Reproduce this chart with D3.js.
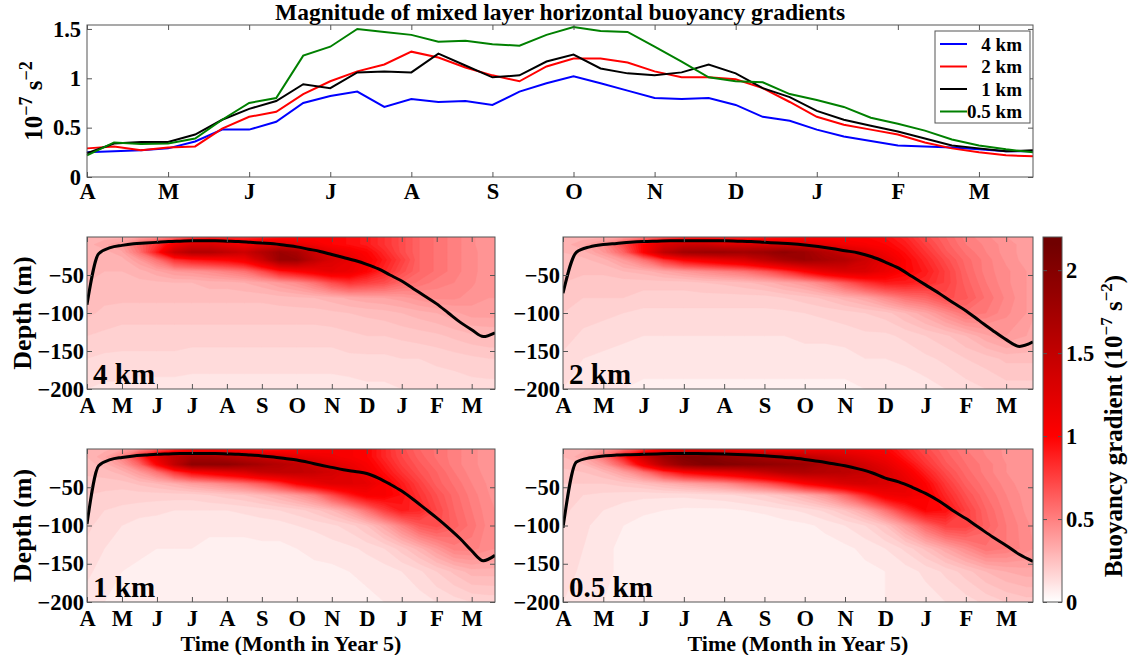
<!DOCTYPE html>
<html>
<head>
<meta charset="utf-8">
<script src="https://cdn.jsdelivr.net/npm/d3@7"></script>
<style>
  body { margin: 0; background: #fff; }
  svg { font-family: 'Liberation Serif', 'Times New Roman', serif; font-weight: bold; }
</style>
</head>
<body>
<svg id="chart"></svg>
<script>
// Time axis: model days (30-day months) starting 1 April of year 5
const monthLabels = ['A', 'M', 'J', 'J', 'A', 'S', 'O', 'N', 'D', 'J', 'F', 'M'];
const monthDays = [0, 30, 60, 90, 120, 150, 180, 210, 240, 270, 300, 330];
const lastDay = 350;

// Top panel: mixed layer |grad b| (10^-7 s^-2), one value every 10 days
const sampleDays = [0, 10, 20, 30, 40, 50, 60, 70, 80, 90, 100, 110, 120, 130, 140, 150, 160, 170,
  180, 190, 200, 210, 220, 230, 240, 250, 260, 270, 280, 290, 300, 310, 320, 330, 340, 350];
const grad4km = [0.25, 0.26, 0.27, 0.29, 0.36, 0.48, 0.48, 0.56, 0.75, 0.82, 0.865, 0.71,
  0.79, 0.76, 0.77, 0.73, 0.865, 0.95, 1.02, 0.95, 0.875, 0.80, 0.79, 0.80,
  0.73, 0.61, 0.57, 0.48, 0.41, 0.365, 0.32, 0.31, 0.30, 0.28, 0.26, 0.26];
const grad2km = [0.29, 0.31, 0.27, 0.30, 0.31, 0.49, 0.61, 0.66, 0.84, 0.97, 1.07, 1.14,
  1.27, 1.21, 1.11, 1.03, 0.97, 1.12, 1.20, 1.20, 1.16, 1.07, 1.01, 1.01,
  0.99, 0.90, 0.76, 0.61, 0.53, 0.48, 0.43, 0.35, 0.29, 0.25, 0.22, 0.21];
const grad1km = [0.24, 0.34, 0.355, 0.355, 0.43, 0.58, 0.69, 0.77, 0.94, 0.90, 1.06, 1.07,
  1.06, 1.25, 1.13, 1.01, 1.03, 1.17, 1.24, 1.10, 1.05, 1.03, 1.06, 1.14,
  1.05, 0.90, 0.81, 0.67, 0.58, 0.52, 0.46, 0.39, 0.32, 0.29, 0.26, 0.27];
const grad05km = [0.22, 0.35, 0.335, 0.34, 0.39, 0.58, 0.75, 0.80, 1.23, 1.32, 1.50, 1.47,
  1.44, 1.37, 1.38, 1.345, 1.33, 1.44, 1.52, 1.48, 1.47, 1.32, 1.17, 1.01,
  0.97, 0.96, 0.84, 0.78, 0.71, 0.60, 0.54, 0.47, 0.38, 0.32, 0.28, 0.25];

// Mixed layer depth (m), same 10-day sampling
const mld4km = [-89, -22, -14, -11, -9, -8, -7, -6, -5.5, -5, -5, -5, -5.5, -6, -7, -8, -9, -11,
  -13, -16, -19, -23, -27, -31, -36, -42, -50, -58, -68, -78, -88, -100, -112, -122, -131, -126];
const mld2km = [-74, -20, -13, -10, -8.5, -7, -6, -5.5, -5, -5, -5, -5, -5, -5.5, -6, -7, -8, -9,
  -10.5, -12.5, -15, -18, -21, -26, -33, -41, -52, -63, -74, -86, -97, -110, -123, -135, -144, -138];
const mld1km = [-98, -22, -14, -11, -9, -8, -7, -6.5, -6, -6, -6, -6, -6.5, -7, -8, -9, -10.5, -12.5,
  -14.5, -17.5, -21, -24, -27, -29.5, -32, -38, -46, -55, -66, -78, -90, -103, -117, -133, -146, -139];
const mld05km = [-103, -17, -11.5, -9, -8, -7.5, -7, -6.5, -6, -6, -6, -6.3, -6.6, -7.2, -8, -8.8, -10, -11.5,
  -13.6, -16, -19, -22, -26, -31, -38, -43, -50, -58, -68, -80, -91, -103, -115, -126, -138, -147];

// Depth-time sections of |grad b| (10^-7 s^-2): rows = depths, columns = days
const gridDays = [0, 15, 30, 45, 60, 75, 90, 105, 120, 135, 150, 165, 180, 195, 210, 225, 240,
  255, 270, 285, 300, 315, 330, 345, 350];
const gridDepths = [0, -10, -20, -30, -45, -60, -80, -100, -130, -160, -200];

const field4km = [
  [0.3, 0.3, 0.3, 0.35, 0.4, 0.5, 0.7, 0.8, 0.8, 0.8, 0.85, 0.9, 0.95, 1.0, 1.0, 0.95, 0.9, 0.8, 0.7, 0.6, 0.55, 0.5, 0.45, 0.4, 0.4],
  [0.3, 0.35, 0.4, 0.6, 0.8, 1.1, 1.3, 1.3, 1.2, 1.1, 1.2, 1.3, 1.2, 1.1, 1.0, 0.95, 0.9, 0.8, 0.7, 0.6, 0.55, 0.5, 0.45, 0.4, 0.4],
  [0.3, 0.3, 0.35, 0.55, 0.9, 1.4, 1.6, 1.6, 1.5, 1.4, 1.6, 1.8, 1.7, 1.4, 1.2, 1.1, 1.0, 0.85, 0.7, 0.6, 0.55, 0.5, 0.45, 0.42, 0.42],
  [0.3, 0.3, 0.3, 0.4, 0.55, 0.8, 0.9, 0.95, 1.0, 1.1, 1.4, 1.8, 1.8, 1.5, 1.3, 1.2, 1.05, 0.9, 0.75, 0.6, 0.55, 0.5, 0.45, 0.42, 0.42],
  [0.3, 0.28, 0.28, 0.3, 0.35, 0.4, 0.42, 0.45, 0.5, 0.55, 0.7, 0.9, 1.0, 1.1, 1.2, 1.15, 1.0, 0.85, 0.7, 0.6, 0.55, 0.5, 0.45, 0.42, 0.42],
  [0.28, 0.27, 0.27, 0.27, 0.27, 0.28, 0.28, 0.3, 0.3, 0.32, 0.35, 0.4, 0.45, 0.55, 0.7, 0.8, 0.75, 0.7, 0.6, 0.55, 0.5, 0.48, 0.45, 0.4, 0.4],
  [0.27, 0.25, 0.25, 0.25, 0.25, 0.25, 0.25, 0.25, 0.25, 0.25, 0.25, 0.26, 0.27, 0.28, 0.3, 0.33, 0.35, 0.36, 0.38, 0.42, 0.45, 0.45, 0.42, 0.4, 0.4],
  [0.25, 0.23, 0.22, 0.22, 0.22, 0.22, 0.22, 0.22, 0.22, 0.22, 0.22, 0.22, 0.22, 0.22, 0.23, 0.24, 0.25, 0.26, 0.28, 0.3, 0.32, 0.35, 0.38, 0.38, 0.38],
  [0.2, 0.19, 0.18, 0.18, 0.18, 0.18, 0.18, 0.18, 0.18, 0.18, 0.18, 0.18, 0.18, 0.18, 0.18, 0.19, 0.2, 0.2, 0.21, 0.22, 0.23, 0.25, 0.27, 0.28, 0.28],
  [0.16, 0.15, 0.15, 0.15, 0.15, 0.15, 0.14, 0.14, 0.14, 0.14, 0.14, 0.14, 0.14, 0.14, 0.14, 0.15, 0.15, 0.15, 0.16, 0.16, 0.17, 0.18, 0.19, 0.2, 0.2],
  [0.12, 0.11, 0.11, 0.1, 0.1, 0.1, 0.1, 0.1, 0.1, 0.1, 0.1, 0.1, 0.1, 0.1, 0.1, 0.1, 0.11, 0.11, 0.12, 0.12, 0.13, 0.13, 0.14, 0.14, 0.14]
];
const field2km = [
  [0.3, 0.3, 0.3, 0.35, 0.45, 0.6, 0.75, 0.8, 0.8, 0.8, 0.85, 0.9, 0.95, 1.0, 1.0, 1.0, 0.95, 0.85, 0.7, 0.6, 0.5, 0.45, 0.4, 0.38, 0.38],
  [0.3, 0.35, 0.45, 0.7, 1.0, 1.3, 1.4, 1.4, 1.3, 1.3, 1.3, 1.3, 1.3, 1.2, 1.1, 1.05, 1.0, 0.9, 0.75, 0.62, 0.52, 0.47, 0.42, 0.38, 0.38],
  [0.28, 0.3, 0.4, 0.6, 1.0, 1.5, 1.75, 1.8, 1.8, 1.75, 1.8, 1.9, 1.8, 1.6, 1.4, 1.25, 1.1, 0.95, 0.8, 0.65, 0.55, 0.48, 0.42, 0.38, 0.38],
  [0.27, 0.27, 0.3, 0.4, 0.55, 0.8, 1.0, 1.1, 1.2, 1.3, 1.5, 1.7, 1.8, 1.7, 1.6, 1.4, 1.2, 1.0, 0.85, 0.7, 0.58, 0.5, 0.43, 0.38, 0.38],
  [0.25, 0.25, 0.25, 0.28, 0.3, 0.35, 0.4, 0.45, 0.5, 0.55, 0.65, 0.8, 1.0, 1.2, 1.3, 1.3, 1.15, 1.0, 0.9, 0.75, 0.6, 0.5, 0.45, 0.4, 0.38],
  [0.24, 0.22, 0.22, 0.22, 0.22, 0.22, 0.22, 0.24, 0.25, 0.27, 0.3, 0.35, 0.4, 0.5, 0.65, 0.8, 0.9, 0.9, 0.85, 0.75, 0.62, 0.52, 0.45, 0.4, 0.38],
  [0.22, 0.2, 0.2, 0.2, 0.18, 0.18, 0.18, 0.18, 0.18, 0.18, 0.18, 0.2, 0.22, 0.25, 0.3, 0.35, 0.45, 0.55, 0.6, 0.7, 0.65, 0.55, 0.47, 0.4, 0.38],
  [0.2, 0.18, 0.17, 0.16, 0.15, 0.15, 0.15, 0.15, 0.15, 0.15, 0.15, 0.15, 0.16, 0.17, 0.18, 0.2, 0.22, 0.28, 0.35, 0.45, 0.55, 0.52, 0.45, 0.4, 0.37],
  [0.18, 0.15, 0.14, 0.13, 0.12, 0.12, 0.12, 0.12, 0.12, 0.12, 0.12, 0.12, 0.13, 0.13, 0.14, 0.15, 0.15, 0.17, 0.2, 0.23, 0.28, 0.35, 0.4, 0.36, 0.33],
  [0.15, 0.12, 0.11, 0.1, 0.1, 0.1, 0.1, 0.1, 0.1, 0.1, 0.1, 0.1, 0.1, 0.1, 0.1, 0.12, 0.12, 0.13, 0.15, 0.17, 0.2, 0.22, 0.25, 0.25, 0.25],
  [0.12, 0.1, 0.08, 0.08, 0.07, 0.07, 0.07, 0.07, 0.07, 0.07, 0.07, 0.07, 0.07, 0.07, 0.07, 0.08, 0.08, 0.09, 0.1, 0.12, 0.14, 0.16, 0.18, 0.18, 0.18]
];
const field1km = [
  [0.3, 0.3, 0.35, 0.45, 0.6, 0.75, 0.85, 0.85, 0.85, 0.85, 0.85, 0.9, 0.95, 1.0, 1.05, 1.05, 1.0, 0.85, 0.7, 0.6, 0.55, 0.5, 0.45, 0.42, 0.42],
  [0.28, 0.35, 0.5, 0.8, 1.2, 1.5, 1.7, 1.7, 1.6, 1.5, 1.4, 1.3, 1.2, 1.15, 1.1, 1.05, 1.0, 0.85, 0.72, 0.62, 0.55, 0.5, 0.45, 0.42, 0.42],
  [0.26, 0.3, 0.4, 0.6, 1.0, 1.5, 1.9, 1.9, 1.9, 1.8, 1.7, 1.6, 1.5, 1.35, 1.25, 1.15, 1.05, 0.9, 0.75, 0.65, 0.57, 0.5, 0.45, 0.42, 0.42],
  [0.25, 0.26, 0.3, 0.4, 0.55, 0.8, 1.0, 1.1, 1.2, 1.3, 1.45, 1.5, 1.5, 1.45, 1.35, 1.25, 1.1, 0.95, 0.8, 0.68, 0.6, 0.52, 0.46, 0.42, 0.42],
  [0.22, 0.22, 0.22, 0.25, 0.28, 0.32, 0.38, 0.42, 0.48, 0.55, 0.65, 0.8, 1.0, 1.15, 1.25, 1.25, 1.2, 1.05, 0.9, 0.75, 0.62, 0.55, 0.48, 0.43, 0.42],
  [0.2, 0.19, 0.18, 0.18, 0.18, 0.18, 0.18, 0.2, 0.22, 0.24, 0.28, 0.33, 0.4, 0.5, 0.7, 0.9, 1.05, 1.05, 0.95, 0.8, 0.68, 0.58, 0.5, 0.44, 0.43],
  [0.18, 0.16, 0.15, 0.14, 0.13, 0.12, 0.12, 0.12, 0.12, 0.13, 0.14, 0.16, 0.18, 0.22, 0.28, 0.38, 0.55, 0.75, 0.9, 0.85, 0.72, 0.6, 0.52, 0.45, 0.44],
  [0.17, 0.14, 0.12, 0.1, 0.1, 0.09, 0.09, 0.09, 0.09, 0.09, 0.1, 0.1, 0.12, 0.13, 0.15, 0.18, 0.24, 0.35, 0.5, 0.65, 0.7, 0.62, 0.54, 0.46, 0.45],
  [0.15, 0.12, 0.1, 0.09, 0.08, 0.08, 0.08, 0.07, 0.07, 0.07, 0.07, 0.07, 0.08, 0.09, 0.1, 0.11, 0.13, 0.16, 0.22, 0.3, 0.4, 0.5, 0.5, 0.45, 0.44],
  [0.13, 0.1, 0.08, 0.07, 0.06, 0.06, 0.06, 0.06, 0.06, 0.06, 0.06, 0.06, 0.06, 0.07, 0.07, 0.08, 0.09, 0.1, 0.12, 0.15, 0.2, 0.25, 0.3, 0.3, 0.3],
  [0.1, 0.08, 0.06, 0.05, 0.05, 0.05, 0.05, 0.05, 0.05, 0.05, 0.05, 0.05, 0.05, 0.05, 0.05, 0.06, 0.07, 0.08, 0.09, 0.1, 0.12, 0.14, 0.16, 0.17, 0.17]
];
const field05km = [
  [0.3, 0.3, 0.4, 0.55, 0.75, 0.95, 1.05, 1.05, 1.0, 0.95, 0.95, 1.0, 1.05, 1.1, 1.1, 1.05, 1.0, 0.85, 0.7, 0.6, 0.52, 0.47, 0.43, 0.4, 0.4],
  [0.28, 0.35, 0.55, 0.9, 1.4, 1.8, 2.0, 2.0, 1.9, 1.8, 1.7, 1.6, 1.5, 1.4, 1.3, 1.2, 1.1, 0.9, 0.75, 0.62, 0.54, 0.48, 0.43, 0.4, 0.4],
  [0.25, 0.28, 0.4, 0.65, 1.1, 1.6, 1.9, 2.0, 2.0, 1.95, 1.9, 1.85, 1.8, 1.65, 1.5, 1.35, 1.2, 1.0, 0.8, 0.65, 0.56, 0.5, 0.44, 0.4, 0.4],
  [0.23, 0.24, 0.28, 0.38, 0.55, 0.8, 1.0, 1.1, 1.2, 1.3, 1.45, 1.6, 1.65, 1.6, 1.55, 1.45, 1.3, 1.1, 0.88, 0.7, 0.58, 0.5, 0.44, 0.4, 0.4],
  [0.2, 0.2, 0.2, 0.22, 0.25, 0.3, 0.35, 0.4, 0.45, 0.55, 0.65, 0.8, 1.0, 1.15, 1.3, 1.35, 1.3, 1.2, 1.0, 0.78, 0.62, 0.53, 0.46, 0.41, 0.4],
  [0.18, 0.16, 0.15, 0.14, 0.13, 0.13, 0.13, 0.14, 0.15, 0.17, 0.2, 0.25, 0.32, 0.42, 0.6, 0.85, 1.1, 1.15, 1.05, 0.85, 0.68, 0.56, 0.48, 0.42, 0.41],
  [0.17, 0.14, 0.12, 0.1, 0.09, 0.08, 0.07, 0.07, 0.07, 0.08, 0.09, 0.11, 0.13, 0.17, 0.24, 0.35, 0.55, 0.8, 1.0, 0.95, 0.75, 0.6, 0.5, 0.43, 0.42],
  [0.16, 0.13, 0.1, 0.08, 0.06, 0.05, 0.04, 0.04, 0.04, 0.04, 0.05, 0.06, 0.07, 0.09, 0.12, 0.16, 0.24, 0.4, 0.6, 0.75, 0.75, 0.62, 0.52, 0.45, 0.43],
  [0.15, 0.12, 0.09, 0.07, 0.05, 0.04, 0.04, 0.04, 0.04, 0.04, 0.04, 0.04, 0.05, 0.06, 0.07, 0.09, 0.12, 0.17, 0.25, 0.35, 0.45, 0.55, 0.52, 0.46, 0.44],
  [0.14, 0.11, 0.09, 0.07, 0.06, 0.05, 0.05, 0.05, 0.05, 0.05, 0.05, 0.05, 0.05, 0.05, 0.06, 0.07, 0.08, 0.1, 0.13, 0.17, 0.22, 0.28, 0.32, 0.34, 0.34],
  [0.12, 0.1, 0.08, 0.07, 0.06, 0.06, 0.06, 0.06, 0.06, 0.06, 0.06, 0.06, 0.06, 0.06, 0.06, 0.07, 0.08, 0.09, 0.1, 0.12, 0.14, 0.17, 0.2, 0.22, 0.22]
];

const seriesNames = ['4 km', '2 km', '1 km', '0.5 km'];
const seriesColors = ['#0000ff', '#ff0000', '#000000', '#008000'];
const gradTicks = [0, 0.5, 1, 1.5];
const depthTicks = [-50, -100, -150, -200];
const colorTicks = [0, 0.5, 1, 1.5, 2];

// Set up SVG workspace
const svg = d3.select('#chart')
  .attr('width', 1135)
  .attr('height', 655);

const frameColor = '#555';
const tickFont = 22.5;
const plain = function (d) { return String(d).replace('-', '\u2212'); };

// Colormap: white -> red -> dark red
const color = d3.scaleLinear()
  .domain([0, 1, 2.2])
  .range(['#ffffff', '#ff0000', '#6b0000'])
  .clamp(true);

// Restyle an axis group like MATLAB (no spine, grey ticks, black bold labels)
function styleAxis(ag) {
  ag.attr('font-family', null).attr('font-size', tickFont);
  ag.select('.domain').remove();
  ag.selectAll('line').attr('stroke', frameColor);
  ag.selectAll('text').attr('fill', '#000');
}

// MATLAB style box: inward ticks on all four sides
function drawBox(g, x, y, yTicks, xPad, yPad) {
  const [x0, x1] = x.range();
  const [yb, yt] = y.range();
  const monthFmt = function (d, i) { return monthLabels[i]; };
  const axes = [
    { axis: d3.axisBottom(x).tickValues(monthDays).tickFormat(monthFmt).tickPadding(xPad), at: `translate(0,${yb})` },
    { axis: d3.axisTop(x).tickValues(monthDays).tickFormat(''), at: `translate(0,${yt})` },
    { axis: d3.axisLeft(y).tickValues(yTicks).tickFormat(plain).tickPadding(yPad), at: `translate(${x0},0)` },
    { axis: d3.axisRight(y).tickValues(yTicks).tickFormat(''), at: `translate(${x1},0)` }
  ];
  axes.forEach(function (a) {
    const ag = g.append('g')
      .attr('transform', a.at)
      .call(a.axis.tickSizeInner(-5).tickSizeOuter(0));
    styleAxis(ag);
  });
  g.append('rect')
    .attr('x', x0).attr('y', yt)
    .attr('width', x1 - x0).attr('height', yb - yt)
    .attr('fill', 'none')
    .attr('stroke', frameColor);
}

// ---------- Top panel: line chart ----------
const xTop = d3.scaleLinear().domain([0, lastDay]).range([87, 1033]);
const yTop = d3.scaleLinear().domain([0, 1.54]).range([177, 25]);
const topPanel = svg.append('g');

const line = d3.line()
  .x(function (d, i) { return xTop(sampleDays[i]); })
  .y(function (d) { return yTop(d); });

topPanel.selectAll('path.series')
  .data([grad4km, grad2km, grad1km, grad05km])
  .enter()
  .append('path')
  .attr('class', 'series')
  .attr('d', line)
  .attr('fill', 'none')
  .attr('stroke', function (d, i) { return seriesColors[i]; })
  .attr('stroke-width', 2);

drawBox(topPanel, xTop, yTop, gradTicks, 6, 6);

// Title
svg.append('text')
  .attr('x', 560).attr('y', 20)
  .attr('text-anchor', 'middle')
  .attr('font-size', 23.5)
  .text('Magnitude of mixed layer horizontal buoyancy gradients');

// Y label with superscripts
const yl = svg.append('text')
  .attr('transform', 'translate(42,101) rotate(-90)')
  .attr('text-anchor', 'middle')
  .attr('font-size', 25);
yl.append('tspan').text('10');
yl.append('tspan').attr('dy', -10).attr('font-size', 18).text('\u22127');
yl.append('tspan').attr('dy', 10).text(' s');
yl.append('tspan').attr('dy', -10).attr('font-size', 18).text('\u22122');

// Legend
const legend = svg.append('g');
legend.append('rect')
  .attr('x', 935).attr('y', 31)
  .attr('width', 95).attr('height', 92)
  .attr('fill', '#fff')
  .attr('stroke', frameColor);
const entry = legend.selectAll('g.entry')
  .data(seriesNames)
  .enter()
  .append('g')
  .attr('class', 'entry')
  .attr('transform', function (d, i) { return `translate(0,${44 + i * 22.5})`; });
entry.append('line')
  .attr('x1', 940).attr('x2', 967)
  .attr('stroke', function (d, i) { return seriesColors[i]; })
  .attr('stroke-width', 2);
entry.append('text')
  .attr('x', 1022).attr('y', 6.5)
  .attr('text-anchor', 'end')
  .attr('font-size', 19)
  .text(function (d) { return d; });

// ---------- Depth-time sections ----------
const panels = [
  { name: '4 km', field: field4km, mld: mld4km, x: [87, 495], y: [389, 237], left: true },
  { name: '2 km', field: field2km, mld: mld2km, x: [563, 1033], y: [389, 237], left: false },
  { name: '1 km', field: field1km, mld: mld1km, x: [87, 495], y: [602, 449], left: true, bottom: true },
  { name: '0.5 km', field: field05km, mld: mld05km, x: [563, 1033], y: [602, 449], left: false, bottom: true }
];

const nx = gridDays.length;
const ny = gridDepths.length;
const levels = d3.range(0, 2.2, 0.04);

// contour coordinates: value i sits at i + 0.5, edges stretch to the frame
const colKnots = [0].concat(gridDays.map(function (d, i) { return i + 0.5; }), [nx]);
const rowKnots = [0].concat(gridDepths.map(function (d, i) { return i + 0.5; }), [ny]);
const colToDay = d3.scaleLinear().domain(colKnots).range([gridDays[0]].concat(gridDays, [gridDays[nx - 1]]));
const rowToDepth = d3.scaleLinear().domain(rowKnots).range([gridDepths[0]].concat(gridDepths, [gridDepths[ny - 1]]));

panels.forEach(function (p, k) {
  const x = d3.scaleLinear().domain([0, lastDay]).range(p.x);
  const y = d3.scaleLinear().domain([-200, 0]).range(p.y);
  const g = svg.append('g');

  const clipId = 'clip' + k;
  svg.append('clipPath').attr('id', clipId)
    .append('rect')
    .attr('x', p.x[0]).attr('y', p.y[1])
    .attr('width', p.x[1] - p.x[0]).attr('height', p.y[0] - p.y[1]);

  // Filled contours
  const values = [].concat.apply([], p.field);
  const contours = d3.contours().size([nx, ny]).thresholds(levels)(values);
  const proj = d3.geoTransform({
    point: function (cx, cy) { this.stream.point(x(colToDay(cx)), y(rowToDepth(cy))); }
  });
  g.append('g')
    .attr('clip-path', `url(#${clipId})`)
    .selectAll('path')
    .data(contours)
    .enter()
    .append('path')
    .attr('d', d3.geoPath(proj))
    .attr('fill', function (d) { return color(d.value + 0.02); })
    .attr('stroke', function (d) { return color(d.value + 0.02); })
    .attr('stroke-width', 0.4);

  // Mixed layer depth
  g.append('path')
    .datum(p.mld)
    .attr('clip-path', `url(#${clipId})`)
    .attr('d', d3.line()
      .x(function (d, i) { return x(sampleDays[i]); })
      .y(function (d) { return y(d); })
      .curve(d3.curveMonotoneX))
    .attr('fill', 'none')
    .attr('stroke', '#000')
    .attr('stroke-width', 3);

  drawBox(g, x, y, depthTicks, 8, 3);

  // Resolution label
  g.append('text')
    .attr('x', p.x[0] + 6).attr('y', p.y[0] - 5)
    .attr('font-size', 29)
    .text(p.name);

  if (p.left) {
    g.append('text')
      .attr('transform', `translate(31,${(p.y[0] + p.y[1]) / 2}) rotate(-90)`)
      .attr('text-anchor', 'middle')
      .attr('font-size', 26)
      .text('Depth (m)');
  }
  if (p.bottom) {
    g.append('text')
      .attr('x', (p.x[0] + p.x[1]) / 2).attr('y', 651)
      .attr('text-anchor', 'middle')
      .attr('font-size', 22)
      .text('Time (Month in Year 5)');
  }
});

// ---------- Colorbar ----------
const cScale = d3.scaleLinear().domain([0, 2.2]).range([602, 237]);
const grad = svg.append('defs').append('linearGradient')
  .attr('id', 'cbar')
  .attr('x1', 0).attr('y1', 1).attr('x2', 0).attr('y2', 0);
grad.selectAll('stop')
  .data(levels)
  .enter()
  .append('stop')
  .attr('offset', function (d) { return d / 2.2; })
  .attr('stop-color', function (d) { return color(d); });

const cb = svg.append('g');
cb.append('rect')
  .attr('x', 1043).attr('y', 237)
  .attr('width', 19).attr('height', 365)
  .attr('fill', 'url(#cbar)')
  .attr('stroke', frameColor);
styleAxis(cb.append('g')
  .attr('transform', 'translate(1062,0)')
  .call(d3.axisRight(cScale).tickValues(colorTicks).tickFormat(plain)
    .tickSizeInner(-4).tickSizeOuter(0).tickPadding(4)));
styleAxis(cb.append('g')
  .attr('transform', 'translate(1043,0)')
  .call(d3.axisLeft(cScale).tickValues(colorTicks).tickFormat('')
    .tickSizeInner(-4).tickSizeOuter(0)));

const cl = svg.append('text')
  .attr('transform', 'translate(1122,426) rotate(-90)')
  .attr('text-anchor', 'middle')
  .attr('font-size', 25);
cl.append('tspan').text('Buoyancy gradient (10');
cl.append('tspan').attr('dy', -10).attr('font-size', 17).text('\u22127');
cl.append('tspan').attr('dy', 10).text(' s');
cl.append('tspan').attr('dy', -10).attr('font-size', 17).text('\u22122');
cl.append('tspan').attr('dy', 10).text(')');
</script>
</body>
</html>
